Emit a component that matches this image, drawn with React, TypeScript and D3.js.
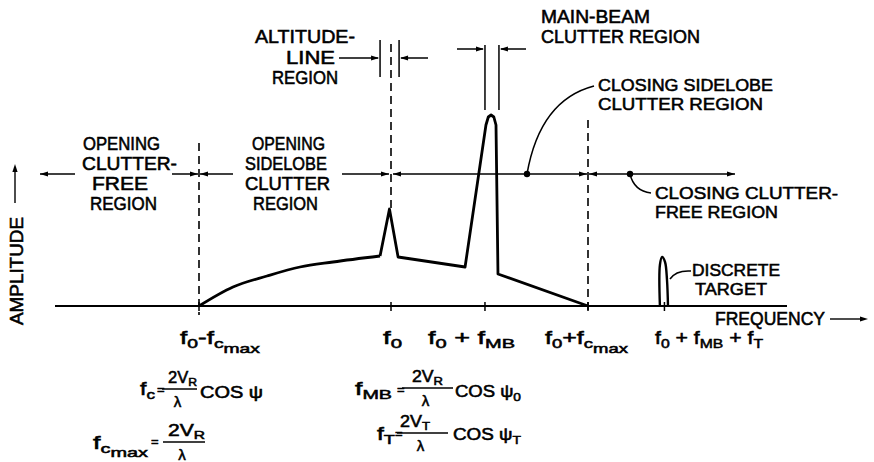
import React from "react";
import * as d3 from "d3";

const W = 874;
const H = 462;
const FONT = "'Liberation Sans', Arial, sans-serif";

// Normalized Doppler frequency: f0 = 0, fc_max = 1.
const tickValues = [-1, 0, 0.477, 1, 1.388];
type Piece = [string, number];
const tickLabels: Piece[][] = [
  [["f", 0], ["0", 1], ["-f", 0], ["c", 1], ["max", 2]],
  [["f", 0], ["0", 1]],
  [["f", 0], ["0", 1], [" + f", 0], ["MB", 1]],
  [["f", 0], ["0", 1], ["+f", 0], ["c", 1], ["max", 2]],
  [["f", 0], ["0", 1], [" + f", 0], ["MB", 1], [" + f", 0], ["T", 1]],
];

// Sidelobe clutter rising from f0 - fc_max (relative amplitude)
const sidelobeFreq = [-1, -0.823, -0.646, -0.474, -0.302, -0.057];
const sidelobeAmp = [0, 0.095, 0.15, 0.195, 0.22, 0.25];
// Altitude line, closing sidelobes and main-beam clutter
const clutterFreq = [-0.057, -0.008, 0.036, 0.376, 0.482, 0.494, 0.508, 0.522, 0.533, 0.543, 1];
const clutterAmp = [0.25, 0.485, 0.245, 0.195, 0.905, 0.945, 0.955, 0.945, 0.905, 0.16, 0];
// Discrete target return
const targetFreq = [1.365, 1.365, 1.376, 1.391, 1.401, 1.406];
const targetAmp = [0, 0.205, 0.245, 0.22, 0.13, 0];

// Region marker level
const regionLevel = 0.66;

const x = d3.scaleLinear().domain([-1, 0, 1]).range([199, 391, 588]);
const y = d3.scaleLinear().domain([0, 1]).range([306, 106]);

const zip = (a: number[], b: number[]) => a.map((v, i) => [v, b[i]] as [number, number]);

const sidelobeLine = d3
  .line<[number, number]>()
  .x((d) => x(d[0]))
  .y((d) => y(d[1]))
  .curve(d3.curveMonotoneX);
const clutterLine = d3
  .line<[number, number]>()
  .x((d) => x(d[0]))
  .y((d) => y(d[1]));
const targetLine = d3
  .line<[number, number]>()
  .x((d) => x(d[0]))
  .y((d) => y(d[1]))
  .curve(d3.curveCatmullRom.alpha(0.5));

function head(tx: number, ty: number, dir: "l" | "r" | "u", len = 8, hw = 2.6) {
  if (dir === "r") return `M${tx},${ty}L${tx - len},${ty - hw}L${tx - len},${ty + hw}Z`;
  if (dir === "l") return `M${tx},${ty}L${tx + len},${ty - hw}L${tx + len},${ty + hw}Z`;
  return `M${tx},${ty}L${tx - hw},${ty + len}L${tx + hw},${ty + len}Z`;
}

function Rich({
  x0,
  y0,
  pieces,
  size = 17,
  width,
  offs = [0, 4, 9],
  subScale = 0.74,
}: {
  x0: number;
  y0: number;
  pieces: Piece[];
  size?: number;
  width?: number;
  offs?: number[];
  subScale?: number;
}) {
  let prev = 0;
  return (
    <text
      x={x0}
      y={y0}
      fontSize={size}
      textLength={width}
      lengthAdjust={width ? "spacingAndGlyphs" : undefined}
      style={{ whiteSpace: "pre" }}
    >
      {pieces.map(([t, lvl], i) => {
        const dy = offs[lvl] - prev;
        prev = offs[lvl];
        return (
          <tspan key={i} dy={dy} fontSize={lvl === 0 ? size : size * subScale}>
            {t}
          </tspan>
        );
      })}
    </text>
  );
}

function Label({ lines, size = 18 }: { lines: [string, number, number, number][]; size?: number }) {
  return (
    <g>
      {lines.map(([t, lx, ly, w], i) => (
        <text key={i} x={lx} y={ly} fontSize={size} textLength={w} lengthAdjust="spacingAndGlyphs">
          {t}
        </text>
      ))}
    </g>
  );
}

function Fraction({
  num,
  left,
  right,
  barY,
  numX,
  numW,
}: {
  num: Piece[];
  left: number;
  right: number;
  barY: number;
  numX: number;
  numW: number;
}) {
  const cx = (left + right) / 2 - 2;
  return (
    <g>
      <Rich x0={numX} y0={barY - 6} pieces={num} size={16} width={numW} offs={[0, 3, 6]} />
      <line x1={left} x2={right} y1={barY} y2={barY} stroke="#000" strokeWidth={1.3} />
      <text x={cx} y={barY + 18} fontSize={15} textAnchor="middle">
        λ
      </text>
    </g>
  );
}

const tickLayout: [number, number][] = [
  [180, 80],
  [383, 19],
  [428, 87],
  [545, 83],
  [655, 108],
];

export default function App() {
  const yr = y(regionLevel);
  const base = y(0);
  const regionSegs: [number, number, boolean, boolean][] = [
    [40, 75, true, false],
    [172, x(-1) - 1, false, true],
    [x(-1) + 1, 233, true, false],
    [342, x(0) - 2, false, true],
    [x(0) + 2, x(1) - 1, true, true],
    [x(1) + 1, 735, true, true],
  ];
  const altL = x(-0.057);
  const altR = x(0.041);
  const mbL = x(0.477);
  const mbR = x(0.548);
  return (
    <svg
      width={W}
      height={H}
      viewBox={`0 0 ${W} ${H}`}
      style={{ position: "absolute", left: 0, top: 0, background: "#fff" }}
      fontFamily={FONT}
    >
      <rect width={W} height={H} fill="#fff" />
      <g fill="#000" stroke="#000" strokeWidth={0.55}>
        {/* Region labels */}
        <Label
          lines={[
            ["OPENING", 83, 150, 77],
            ["CLUTTER-", 82, 170, 95],
            ["FREE", 92, 190, 56],
            ["REGION", 90, 210, 67],
          ]}
        />
        <Label
          lines={[
            ["OPENING", 252, 150, 73],
            ["SIDELOBE", 245, 170, 82],
            ["CLUTTER", 245, 190, 85],
            ["REGION", 253, 210, 65],
          ]}
        />
        <Label
          lines={[
            ["ALTITUDE-", 255, 43, 100],
            ["LINE", 286, 64, 49],
            ["REGION", 272, 84, 66],
          ]}
        />
        <Label
          lines={[
            ["MAIN-BEAM", 541, 23, 109],
            ["CLUTTER REGION", 541, 43, 159],
          ]}
        />
        <Label
          size={17}
          lines={[
            ["CLOSING SIDELOBE", 598, 91, 175],
            ["CLUTTER REGION", 598, 110, 165],
          ]}
        />
        <Label
          size={17}
          lines={[
            ["CLOSING CLUTTER-", 655, 199, 183],
            ["FREE REGION", 655, 218, 123],
          ]}
        />
        <Label
          size={17}
          lines={[
            ["DISCRETE", 692, 276, 88],
            ["TARGET", 695, 295, 72],
          ]}
        />
        <Label lines={[["FREQUENCY", 715, 325, 110]]} />
        <text
          transform="translate(23,271) rotate(-90)"
          fontSize={18}
          textAnchor="middle"
          textLength={108}
          lengthAdjust="spacingAndGlyphs"
        >
          AMPLITUDE
        </text>

        {/* Frequency tick labels */}
        {tickValues.map((v, i) => (
          <Rich
            key={v}
            x0={tickLayout[i][0]}
            y0={344}
            pieces={tickLabels[i]}
            size={18}
            width={tickLayout[i][1]}
          />
        ))}

        {/* Doppler relations */}
        <Rich x0={140} y0={395} pieces={[["f", 0], ["c", 1]]} size={18} width={15} />
        <text x={157} y={394} fontSize={13}>=</text>
        <Fraction num={[["2V", 0], ["R", 1]]} left={162} right={197} barY={389} numX={168} numW={29} />
        <Rich x0={200} y0={398} pieces={[["COS ψ", 0]]} size={16} width={63} />

        <Rich x0={93} y0={449} pieces={[["f", 0], ["c", 1], ["max", 2]]} size={18} width={55} offs={[0, 4, 8]} />
        <text x={151} y={446} fontSize={13}>=</text>
        <Fraction num={[["2V", 0], ["R", 1]]} left={163} right={205} barY={442} numX={168} numW={37} />

        <Rich x0={355} y0={395} pieces={[["f", 0], ["MB", 1]]} size={18} width={37} />
        <text x={397} y={394} fontSize={13}>=</text>
        <Fraction num={[["2V", 0], ["R", 1]]} left={402} right={453} barY={388} numX={412} numW={31} />
        <Rich x0={455} y0={397} pieces={[["COS ψ", 0], ["0", 1]]} size={16} width={66} />

        <Rich x0={377} y0={440} pieces={[["f", 0], ["T", 1]]} size={18} width={18} />
        <text x={395} y={438} fontSize={13}>=</text>
        <Fraction num={[["2V", 0], ["T", 1]]} left={397} right={448} barY={433} numX={400} numW={30} />
        <Rich x0={453} y0={440} pieces={[["COS ψ", 0], ["T", 1]]} size={16} width={68} />
      </g>

      {/* Axes */}
      <g stroke="#000" fill="none">
        <line x1={55} x2={787} y1={base} y2={base} strokeWidth={1.8} />
        {tickValues.map((v) => (
          <line key={v} x1={x(v)} x2={x(v)} y1={base - 4} y2={base + 5} strokeWidth={1.5} />
        ))}
        <line x1={15} x2={15} y1={203} y2={170} strokeWidth={1.4} />
        <line x1={830} x2={862} y1={319} y2={319} strokeWidth={1.4} />
      </g>
      <path d={head(15, 164, "u")} fill="#000" />
      <path d={head(868, 319, "r")} fill="#000" />

      {/* Boundary lines */}
      <g stroke="#000" strokeWidth={1.6} strokeDasharray="8,5" fill="none">
        <line x1={x(-1)} x2={x(-1)} y1={143} y2={315} />
        <line x1={x(0)} x2={x(0)} y1={44} y2={y(0.49)} />
        <line x1={x(1)} x2={x(1)} y1={120} y2={315} />
      </g>

      {/* Region extents */}
      <g stroke="#000" strokeWidth={1.5}>
        {regionSegs.map(([a, b], i) => (
          <line key={i} x1={a} x2={b} y1={yr} y2={yr} />
        ))}
        <line x1={altL} x2={altL} y1={40} y2={77} />
        <line x1={altR} x2={altR} y1={40} y2={77} />
        <line x1={339} x2={altL - 2} y1={58} y2={58} />
        <line x1={428} x2={altR + 2} y1={58} y2={58} />
        <line x1={mbL} x2={mbL} y1={45} y2={110} />
        <line x1={mbR} x2={mbR} y1={45} y2={110} />
        <line x1={457} x2={mbL - 2} y1={49} y2={49} />
        <line x1={526} x2={mbR + 2} y1={49} y2={49} />
      </g>
      <g fill="#000">
        {regionSegs.map(([a, b, hl, hr], i) => (
          <g key={i}>
            {hl && <path d={head(a, yr, "l")} />}
            {hr && <path d={head(b, yr, "r")} />}
          </g>
        ))}
        <path d={head(altL - 1, 58, "r")} />
        <path d={head(altR + 1, 58, "l")} />
        <path d={head(mbL - 1, 49, "r")} />
        <path d={head(mbR + 1, 49, "l")} />
        <circle cx={527} cy={yr} r={3.2} />
        <circle cx={630} cy={yr} r={3.2} />
      </g>

      {/* Leaders */}
      <g stroke="#000" strokeWidth={1.5} fill="none">
        <path d={`M527,${yr}Q540,100 594,86`} />
        <path d={`M630,${yr}Q634,191 651,193`} />
        <path d="M670,279Q676,270 691,271" />
      </g>

      {/* Clutter spectrum */}
      <g stroke="#000" strokeWidth={2.8} fill="none" strokeLinejoin="round">
        <path d={sidelobeLine(zip(sidelobeFreq, sidelobeAmp)) || ""} />
        <path d={clutterLine(zip(clutterFreq, clutterAmp)) || ""} />
        <path d={targetLine(zip(targetFreq, targetAmp)) || ""} strokeWidth={2.4} />
      </g>
    </svg>
  );
}
